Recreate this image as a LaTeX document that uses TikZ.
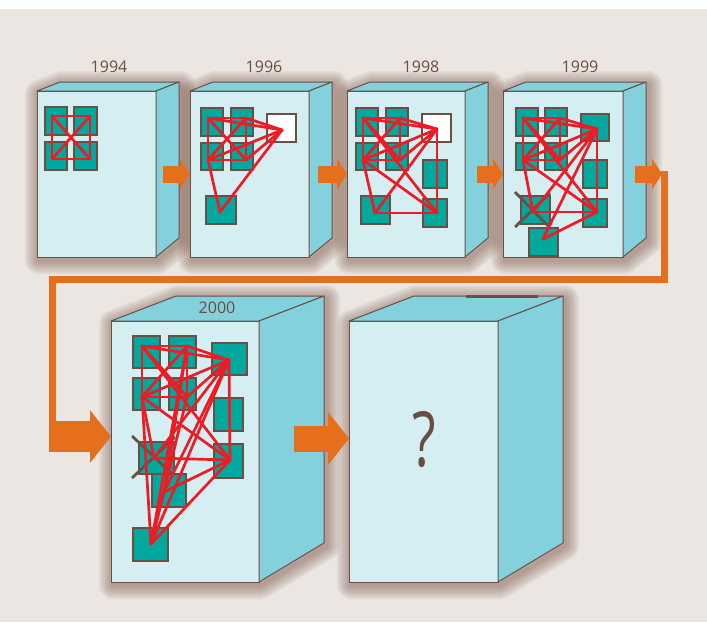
\documentclass[tikz,border=0pt]{standalone}
\usepackage{fontspec}
\setmainfont{Open Sans}
\usepackage{xcolor}
\usepackage{graphicx}
\usetikzlibrary{arrows.meta,fit}
\definecolor{paperbg}{HTML}{EBE6E2}
\definecolor{frontcyan}{HTML}{D5EEF2}
\definecolor{sidecyan}{HTML}{82D1DC}
\definecolor{edgebrown}{HTML}{6B4F44}
\definecolor{shadebrown}{HTML}{6E4634}
\definecolor{modteal}{HTML}{00A89D}
\definecolor{linkred}{HTML}{ED1C24}
\definecolor{floworange}{HTML}{E4701E}
\definecolor{yearbrown}{HTML}{6B4C40}
% cabinet: name / left / right / top / bottom / depth / rise top / rise bottom
\def\cabinets{1/37/156/91/257/23/9/19, 2/190/309/91/257/23/9/19,
  3/347/465/91/257/23/9/19, 4/503/623/91/257/23/9/19,
  5/111/259/321/582/65/25/39, 6/349/498/321/582/65/25/39}

\begin{document}
\begin{tikzpicture}[x=1pt, y=-1pt,
  face/.style={draw=edgebrown, line width=1pt, line join=round},
  front/.style={face, fill=frontcyan, inner sep=0pt, outer sep=0pt},
  module/.style={draw=edgebrown, fill=modteal, line width=1.1pt, inner sep=0pt, outer sep=0pt},
  spare/.style={module, fill=white},
  link/.style={linkred, line width=2.7pt, line cap=round},
  cross/.style={edgebrown, line width=2.8pt},
  year/.style={text=yearbrown, font=\fontsize{16}{18}\selectfont},
  flow/.style={floworange, line width=17pt, -{Triangle[width=31pt, length=10pt, line width=0pt]}},
  bigflow/.style={floworange, line width=#1, -{Triangle[width=53pt, length=21pt, line width=0pt]}},
  flowline/.style={floworange, line width=7pt, line join=miter}]
  \useasboundingbox (0,0) rectangle (707,622);
  % paper
  \fill[white] (0,0) rectangle (707,9);
  \fill[paperbg] (0,9) rectangle (707,622);
  % soft shadows under the cabinets
  \foreach \b/\xa/\xb/\ya/\yb/\dx/\dt/\db in \cabinets {
    \foreach \w in {28,24,...,4}
      \draw[shadebrown, opacity=0.08, line width=\w pt, line join=round]
        (\xa+2,\yb+3) -- (\xa+2,\ya+3) -- (\xa+\dx+2,\ya-\dt+3) -- (\xb+\dx+2,\ya-\dt+3)
        -- (\xb+\dx+2,\yb-\db+3) -- (\xb+2,\yb+3) -- cycle;
  }
  % cabinets: front, top, side
  \foreach \b/\xa/\xb/\ya/\yb/\dx/\dt/\db in \cabinets {
    \node[front, fit={(\xa,\ya) (\xb,\yb)}] (box\b) {};
    \draw[face, fill=sidecyan] (box\b.north west) -- ++(\dx,-\dt) -- ++(\xb-\xa,0) -- (box\b.north east) -- cycle;
    \draw[face, fill=sidecyan] (box\b.north east) -- ++(\dx,-\dt) -- ++(0,\yb-\db-\ya+\dt) -- (box\b.south east) -- cycle;
  }
  \draw[edgebrown, line width=3pt] (466,296) -- (538,296);
  % years
  \node[year] (y1994) at (109,67) {1994};
  \node[year] (y1996) at (264,67) {1996};
  \node[year] (y1998) at (421,67) {1998};
  \node[year] (y1999) at (580,67) {1999};
  \node[year] (y2000) at (217,308) {2000};
  % 1994
  \foreach \m/\xa/\ya/\xb/\yb in {a/45/107/67/135, b/74/107/97/135, c/45/142/67/170, d/74/142/97/170}
    \node[module, fit={(\xa,\ya) (\xb,\yb)}] (m1\m) {};
  \foreach \n/\x/\y in {A/52/116, B/90/116, C/52/159, D/90/159}
    \coordinate (p1\n) at (\x,\y);
  \foreach \u/\v in {A/B, B/D, D/C, C/A, A/D, B/C}
    \draw[link] (p1\u) -- (p1\v);
  % 1996
  \foreach \m/\xa/\ya/\xb/\yb in {a/201/108/223/136, b/231/108/253/136, c/201/143/223/170, d/231/143/253/170, f/206/196/236/224}
    \node[module, fit={(\xa,\ya) (\xb,\yb)}] (m2\m) {};
  \node[spare, fit={(267,114) (296,142)}] (m2e) {};
  \foreach \n/\x/\y in {A/208/118, B/246/118, C/208/160, D/246/160, E/282/130, F/220/212}
    \coordinate (p2\n) at (\x,\y);
  \foreach \u/\v in {A/B, B/D, D/C, C/A, A/D, B/C, E/A, E/B, E/C, E/D, F/C, F/E}
    \draw[link] (p2\u) -- (p2\v);
  % 1998
  \foreach \m/\xa/\ya/\xb/\yb in {a/356/108/378/136, b/386/108/408/136, c/356/143/378/170, d/386/143/408/170, g/423/160/447/188, h/423/199/447/227, f/361/196/390/224}
    \node[module, fit={(\xa,\ya) (\xb,\yb)}] (m3\m) {};
  \node[spare, fit={(422,114) (451,142)}] (m3e) {};
  \foreach \n/\x/\y in {A/363/118, B/400/118, C/363/160, D/400/160, E/437/129, F/375/213, G/437/213}
    \coordinate (p3\n) at (\x,\y);
  \foreach \u/\v in {A/B, B/D, D/C, C/A, A/D, B/C, E/A, E/B, E/C, E/D, E/G, F/C, F/E, F/G, G/C, G/A}
    \draw[link] (p3\u) -- (p3\v);
  % 1999
  \foreach \m/\xa/\ya/\xb/\yb in {a/516/108/538/136, b/545/108/567/136, c/516/143/538/170, d/545/143/567/170, e/581/114/609/141, g/583/160/607/188, h/583/199/607/227, f/521/196/550/224, i/529/228/558/256}
    \node[module, fit={(\xa,\ya) (\xb,\yb)}] (m4\m) {};
  \draw[cross] (515,192) -- (548,226) (515,227) -- (550,193);
  \foreach \n/\x/\y in {A/523/118, B/560/118, C/523/160, D/560/160, E/597/129, F/533/212, G/597/212, H/543/239}
    \coordinate (p4\n) at (\x,\y);
  \foreach \u/\v in {A/B, B/D, D/C, C/A, A/D, B/C, E/A, E/B, E/C, E/D, E/G, F/C, F/E, F/G, G/C, G/A, H/G, H/E}
    \draw[link] (p4\u) -- (p4\v);
  % 2000
  \foreach \m/\xa/\ya/\xb/\yb in {a/133/336/160/368, b/169/336/196/368, c/133/378/160/410, d/169/378/196/410, e/212/343/247/375, g/214/398/243/431, h/214/444/243/478, f/139/442/174/474, i/152/474/186/507, j/133/528/168/561}
    \node[module, fit={(\xa,\ya) (\xb,\yb)}] (m5\m) {};
  \draw[cross] (132,436) -- (172,474) (132,478) -- (175,437);
  \foreach \n/\x/\y in {A/142/346, B/187/346, C/142/397, D/187/397, E/229/360, F/154/458, G/230/460, H/164/492, I/151/544}
    \coordinate (p5\n) at (\x,\y);
  \foreach \u/\v in {A/B, B/D, D/C, C/A, A/D, B/C, E/A, E/B, E/C, E/D, E/G, F/C, F/E, F/G, G/C, G/A, H/G, H/E, I/C, I/B, I/D, I/E, I/G, I/H, H/B}
    \draw[link] (p5\u) -- (p5\v);
  % the unknown cabinet
  \node[text=yearbrown, font=\fontsize{76}{76}\selectfont] (unknown) at (424,440) {\scalebox{0.72}[1]{?}};
  % flow between the cabinets
  \draw[flow] ([xshift=7pt]box1.east) -- (box2.west);
  \draw[flow] ([xshift=9pt]box2.east) -- (box3.west);
  \draw[flow] ([xshift=12pt]box3.east) -- (box4.west);
  \coordinate (turn) at ([xshift=39pt]box4.east);
  \coordinate (down1) at (664.5,171);
  \coordinate (down2) at (664.5,279);
  \coordinate (back1) at (52.5,279);
  \coordinate (back2) at (52.5,450);
  \coordinate (entry) at (49,436.5);
  \draw[flowline] (down1) -- (down2) -- (back1) -- (back2);
  \draw[flow] ([xshift=12pt]box4.east) -- (turn);
  \draw[bigflow=31pt] (entry) -- ([yshift=15pt]box5.west);
  \draw[bigflow=26pt] ([xshift=35pt,yshift=13pt]box5.east) -- ([yshift=13pt]box6.west);
\end{tikzpicture}
\end{document}
